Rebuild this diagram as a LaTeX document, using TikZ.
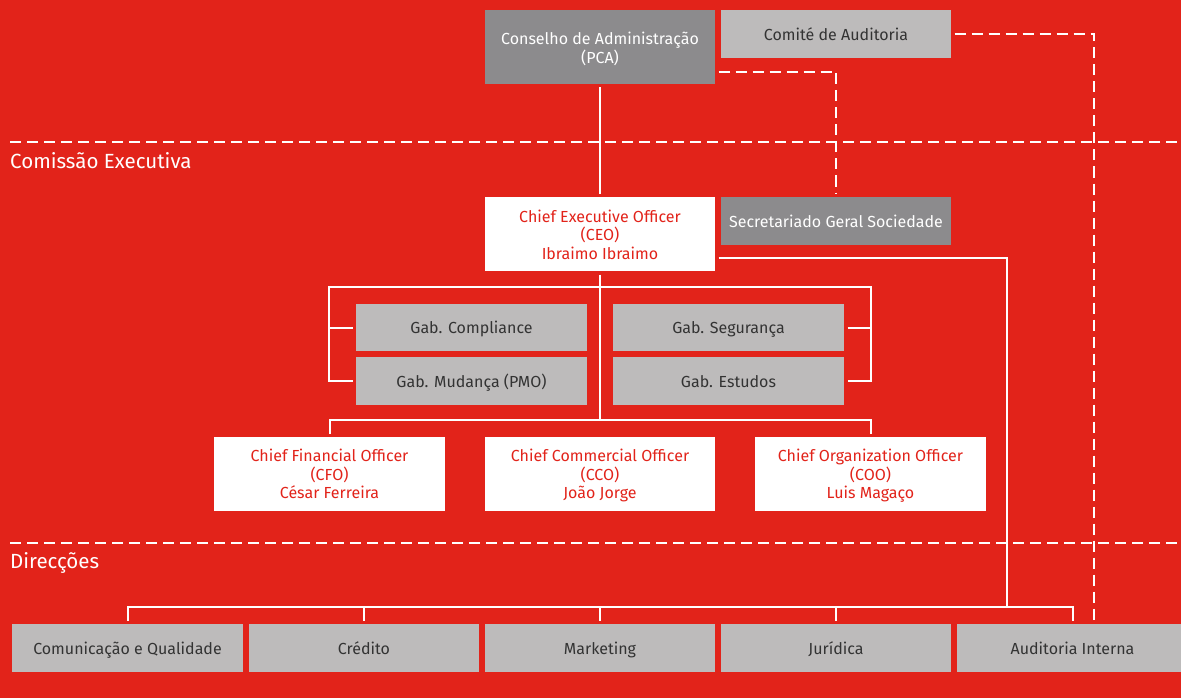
\documentclass[tikz,border=0pt]{standalone}
\usepackage{fontspec}
\setmainfont{Fira Sans}
\usetikzlibrary{calc}
\definecolor{bgred}{HTML}{E2231A}
\definecolor{dgrey}{HTML}{8C8B8D}
\definecolor{lgrey}{HTML}{BDBBBB}
\definecolor{tdark}{HTML}{333333}
\tikzset{
  box/.style={rectangle, minimum width=230, minimum height=48, inner sep=0pt, outer sep=3.5pt, align=center},
  oneline/.style={text height=12.5pt, text depth=0pt},
  twoline/.style={text height=33pt, text depth=0pt},
  threeline/.style={text height=50pt, text depth=0pt},
  darkbox/.style={box, fill=dgrey, text=white},
  lightbox/.style={box, fill=lgrey, text=tdark},
  whitebox/.style={box, fill=white, text=bgred, minimum height=74, threeline},
  conn/.style={draw=white, line width=2pt},
  dconn/.style={draw=white, line width=2.5pt, dash pattern=on 11pt off 6pt},
  seclabel/.style={anchor=base west, inner sep=0pt, text=white, font=\fontsize{20.5}{24}\selectfont},
}
\begin{document}
\begin{tikzpicture}[x=1pt,y=-1pt, font=\fontsize{16}{18.5}\selectfont]
\fill[bgred] (0,0) rectangle (1181,698);
\useasboundingbox (0,0) rectangle (1181,698);

% section separators
\draw[dconn] (10,142) -- (1190,142);
\draw[dconn] (10,543) -- (1190,543);
\node[seclabel] (lblce) at (10,168.5) {Comissão Executiva};
\node[seclabel] (lbldir) at (10,568) {Direcções};

% top
\node[darkbox, twoline, minimum height=74] (ca) at (600,47) {Conselho de Administração\\(PCA)};
\node[lightbox, oneline] (comite) at (836,34) {Comité de Auditoria};

% CEO
\node[whitebox] (ceo) at (600,234) {Chief Executive Officer\\(CEO)\\Ibraimo Ibraimo};
\node[darkbox, oneline] (sec) at (836,221) {Secretariado Geral Sociedade};

% gabinetes
\node[lightbox, oneline, minimum width=231, minimum height=47] (comp) at (471.5,327.5) {Gab. Compliance};
\node[lightbox, oneline, minimum width=231] (muda) at (471.5,381) {Gab. Mudança (PMO)};
\node[lightbox, oneline, minimum width=231, minimum height=47] (seg) at (728.5,327.5) {Gab. Segurança};
\node[lightbox, oneline, minimum width=231] (est) at (728.5,381) {Gab. Estudos};

% chiefs
\node[whitebox, minimum width=231, text height=49pt] (cfo) at (329.5,474) {Chief Financial Officer\\(CFO)\\César Ferreira};
\node[whitebox, text height=49pt] (cco) at (600,474) {Chief Commercial Officer\\(CCO)\\João Jorge};
\node[whitebox, minimum width=231, text height=49pt] (coo) at (870.5,474) {Chief Organization Officer\\(COO)\\Luis Magaço};

% direcções
\node[lightbox, oneline, minimum width=231] (com) at (127.5,648) {Comunicação e Qualidade};
\node[lightbox, oneline] (cred) at (364,648) {Crédito};
\node[lightbox, oneline] (mkt) at (600,648) {Marketing};
\node[lightbox, oneline] (jur) at (836,648) {Jurídica};
\node[lightbox, oneline, minimum width=231] (aud) at (1072.5,648) {Auditoria Interna};

% coordinates
\coordinate (sd1) at (836,72);
\coordinate (da) at (1094,34);
\coordinate (rc) at (1006.5,258);
\coordinate (busy) at (0,607);
\coordinate (bl) at (329,287);
\coordinate (br) at (871,287);
\coordinate (cbus) at (600,420);

% solid connectors
\draw[conn] (ca.south) -- (ceo.north);
\draw[conn] (ceo.south) -- (cbus);
\draw[conn] (muda.west) -| (bl) -- (br) |- (est.east);
\draw[conn] (comp.west) -- (comp.west -| bl);
\draw[conn] (seg.east) -- (seg.east -| br);
\draw[conn] (cfo.north) -- (cfo.north |- cbus) -- (coo.north |- cbus) -- (coo.north);
\draw[conn] (ceo.east |- rc) -- (rc) -- (rc |- busy);
\draw[conn] (com.north) -- (com.north |- busy) -- (aud.north |- busy) -- (aud.north);
\draw[conn] (cred.north) -- (cred.north |- busy);
\draw[conn] (mkt.north) -- (mkt.north |- busy);
\draw[conn] (jur.north) -- (jur.north |- busy);

% dashed connectors
\draw[dconn] (comite.east) -- (da) -- (da |- aud.north);
\draw[dconn] (ca.east |- sd1) -- (sd1) -- (sec.north);
\end{tikzpicture}
\end{document}
